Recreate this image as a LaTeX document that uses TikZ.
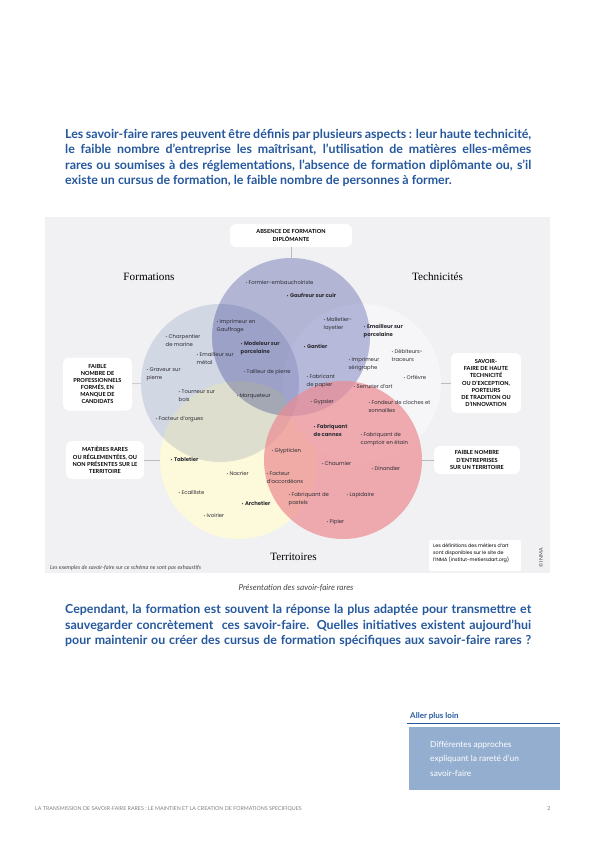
\documentclass[tikz,border=0pt]{standalone}
\usepackage{fontspec}
\setmainfont{Lato}
\newfontfamily\popp{Poppins}
\newfontfamily\serifx{Liberation Serif}
\definecolor{headblue}{RGB}{37,88,158}
\definecolor{panelgray}{RGB}{241,241,243}
\definecolor{cyellow}{RGB}{253,249,219}
\definecolor{cright}{RGB}{246,246,249}
\definecolor{cleft}{RGB}{223,228,240}
\definecolor{ctopc}{RGB}{190,192,224}
\definecolor{credc}{RGB}{236,139,145}
\definecolor{linegray}{RGB}{185,185,190}
\definecolor{boxblue}{RGB}{148,174,208}
\definecolor{textdark}{RGB}{45,45,52}
\definecolor{captgray}{RGB}{70,70,75}
\newcommand\bul{{\fontsize{4}{4}\selectfont\textbullet}\hspace{1.3pt}}
\newcommand\jline[1]{\makebox[466pt][s]{#1}}
\tikzset{
  headtxt/.style={anchor=base west, inner sep=0pt, text=headblue, font=\bfseries\fontsize{12.4}{14}\selectfont},
  itm/.style={anchor=base west, inner sep=0pt, align=left, text=textdark, font=\popp\fontsize{5.3}{7.8}\selectfont},
  itmb/.style={itm, font=\popp\bfseries\fontsize{5.3}{7.8}\selectfont},
  itmtwo/.style={itm, yshift=-7.8pt},
  itmbtwo/.style={itmb, yshift=-7.8pt},
  lbox/.style={fill=white, rounded corners=6pt, inner sep=0pt, align=center, text=black, font=\bfseries\fontsize{5.6}{7.1}\selectfont},
  connline/.style={draw=linegray, line width=0.6pt},
  ringnode/.style={circle, minimum size=158pt, inner sep=0pt},
  domtitle/.style={anchor=base, inner sep=0pt, font=\serifx\fontsize{11.2}{12}\selectfont, text=black}
}
\begin{document}
\begin{tikzpicture}[x=1pt,y=-1pt]
\useasboundingbox (0,0) rectangle (595,842);
\fill[white] (0,0) rectangle (595,842);

% heading paragraph
\node[headtxt] (h1) at (65,138.5) {\jline{Les savoir-faire rares peuvent être définis par plusieurs aspects : leur haute technicité,}};
\node[headtxt] (h2) at (65,154) {\jline{le faible nombre d’entreprise les maîtrisant, l’utilisation de matières elles-mêmes}};
\node[headtxt] (h3) at (65,169.3) {\jline{rares ou soumises à des réglementations, l’absence de formation diplômante ou, s’il}};
\node[headtxt] (h4) at (65,184.6) {existe un cursus de formation, le faible nombre de personnes à former.};

% panel
\fill[panelgray] (45,217) rectangle (550,573);

% circles
\node[ringnode, fill=cyellow] (cyel) at (239,460) {};
\node[ringnode, fill=cright] (cri) at (362,383) {};
\begin{scope}[blend mode=multiply]
\node[ringnode, fill=cleft] (cle) at (220,383) {};
\node[ringnode, fill=ctopc] (cto) at (291,337) {};
\end{scope}
\node[ringnode, fill=credc, fill opacity=0.7] (cred) at (343,460) {};

% label boxes
\node[lbox, minimum width=122pt, minimum height=23pt] (absbox) at (291,235.5) {ABSENCE DE FORMATION\\DIPLÔMANTE};
\node[lbox, minimum width=69pt, minimum height=53pt] (profbox) at (97.5,384) {FAIBLE\\NOMBRE DE\\PROFESSIONNELS\\FORMÉS, EN\\MANQUE DE\\CANDIDATS};
\node[lbox, minimum width=78pt, minimum height=38pt] (matbox) at (105,460) {MATIÈRES RARES\\OU RÉGLEMENTÉES, OU\\NON PRÉSENTES SUR LE\\TERRITOIRE};
\node[lbox, minimum width=70pt, minimum height=60pt] (savbox) at (486,383) {SAVOIR-\\FAIRE DE HAUTE\\TECHNICITÉ\\OU D’EXCEPTION,\\PORTEURS\\DE TRADITION OU\\D’INNOVATION};
\node[lbox, minimum width=86pt, minimum height=28pt] (entbox) at (477,460) {FAIBLE NOMBRE\\D’ENTREPRISES\\SUR UN TERRITOIRE};

\draw[connline] (absbox) -- (cto);
\draw[connline] (profbox) -- (cle);
\draw[connline] (matbox) -- (cyel);
\draw[connline] (savbox) -- (cri);
\draw[connline] (entbox) -- (cred);

% domain titles
\node[domtitle] (tform) at (149,280) {Formations};
\node[domtitle] (ttech) at (437.5,280) {Technicités};
\node[domtitle] (tterr) at (293.5,560) {Territoires};

% items: top circle
\node[itm] (i1) at (245.5,284.5) {\bul Formier-embauchoiriste};
\node[itmb] (i2) at (286.5,297.5) {\bul Gaufreur sur cuir};
\node[itmtwo] (i3) at (323.5,321.5) {\bul Malletier-\\layetier};
\node[itmtwo] (i4) at (216.5,323.5) {\bul Imprimeur en\\Gauffrage};
\node[itmbtwo] (i5) at (240.5,345.5) {\bul Modeleur sur\\porcelaine};
\node[itm] (i6) at (243.5,373.5) {\bul Tailleur de pierre};
\node[itmb] (i7) at (303.5,348.5) {\bul Gantier};
\node[itmbtwo] (i8) at (363.5,328.5) {\bul Emailleur sur\\porcelaine};
\node[itmtwo] (i9) at (348.5,361.5) {\bul Imprimeur\\sérigraphe};
\node[itmtwo] (i10) at (391.5,353.5) {\bul Débiteurs-\\traceurs};
\node[itm] (i11) at (403.5,379.5) {\bul Orfèvre};
\node[itmtwo] (i12) at (306.5,378.5) {\bul Fabricant\\de papier};
\node[itm] (i13) at (353.5,388.5) {\bul Serrurier d’art};
\node[itm] (i14) at (310.5,403.5) {\bul Gypsier};
\node[itmtwo] (i15) at (368.5,404.5) {\bul Fondeur de cloches et\\sonnailles};
% left circle
\node[itmtwo] (i16) at (165.5,338.5) {\bul Charpentier\\de marine};
\node[itmtwo] (i17) at (196.5,356.5) {\bul Emailleur sur\\métal};
\node[itmtwo] (i18) at (146.5,371.5) {\bul Graveur sur\\pierre};
\node[itmtwo] (i19) at (178.5,393.5) {\bul Tourneur sur\\bois};
\node[itm] (i20) at (236.5,397.5) {\bul Marqueteur};
\node[itm] (i21) at (155.5,420.5) {\bul Facteur d’orgues};
% bottom
\node[itmb] (i22) at (170.5,461.5) {\bul Tabletier};
\node[itm] (i23) at (226.5,475.5) {\bul Nacrier};
\node[itm] (i24) at (178.5,494.5) {\bul Ecailliste};
\node[itmb] (i25) at (241.5,505.5) {\bul Archetier};
\node[itm] (i26) at (203.5,517.5) {\bul Ivoirier};
\node[itm] (i27) at (271.5,452.5) {\bul Glypticien};
\node[itmtwo] (i28) at (266.5,475.5) {\bul Facteur\\d’accordéons};
\node[itmtwo] (i29) at (288.5,496.5) {\bul Fabriquant de\\pastels};
% red circle
\node[itmbtwo] (i30) at (313.5,428.5) {\bul Fabriquant\\de cannes};
\node[itmtwo] (i31) at (360.5,436.5) {\bul Fabriquant de\\comptoir en étain};
\node[itm] (i32) at (321.5,465.5) {\bul Chaumier};
\node[itm] (i33) at (371.5,470.5) {\bul Dinandier};
\node[itm] (i34) at (346.5,496.5) {\bul Lapidaire};
\node[itm] (i35) at (326.5,523.5) {\bul Pipier};

% notes in panel
\node[anchor=base west, inner sep=0pt, text=captgray, font=\itshape\fontsize{5.6}{7}\selectfont] (note1) at (50,569) {Les exemples de savoir-faire sur ce schéma ne sont pas exhaustifs};
\node[fill=white, rounded corners=2pt, minimum width=92pt, minimum height=31pt, inner sep=0pt] (defbox) at (475,555.5) {};
\node[anchor=north west, inner sep=0pt, align=left, text=black, font=\popp\fontsize{4.8}{7}\selectfont] (deftext) at (433,543.5) {Les définitions des métiers d’art\\sont disponibles sur le site de\\l’INMA (institut-metiersdart.org)};
\node[rotate=90, inner sep=0pt, text=captgray, font=\fontsize{5.2}{6}\selectfont] (copy) at (541,558) {© INMA};

% caption
\node[anchor=base, inner sep=0pt, text=captgray, font=\itshape\fontsize{8.2}{10}\selectfont] (capt) at (296,590.5) {Présentation des savoir-faire rares};

% second paragraph
\node[headtxt] (p1) at (65,613.5) {\jline{Cependant, la formation est souvent la réponse la plus adaptée pour transmettre et}};
\node[headtxt] (p2) at (65,629) {\jline{sauvegarder concrètement \ ces savoir-faire. Quelles initiatives existent aujourd’hui}};
\node[headtxt] (p3) at (65,644.5) {\jline{pour maintenir ou créer des cursus de formation spécifiques aux savoir-faire rares ?}};

% aller plus loin
\node[anchor=base west, inner sep=0pt, text=headblue, font=\bfseries\fontsize{8}{10}\selectfont] (apl) at (410,718.5) {Aller plus loin};
\draw[headblue, line width=0.7pt] (407,723) -- (560,723);
\fill[boxblue] (409,727) rectangle (560,790);
\node[anchor=north west, inner sep=0pt, align=left, text=white, font=\fontsize{8.4}{14.5}\selectfont] (apltext) at (430,741) {Différentes approches\\expliquant la rareté d’un\\savoir-faire};

% footer
\node[anchor=base west, inner sep=0pt, text=gray, font=\fontsize{5.3}{6}\selectfont] (foot) at (35,810) {LA TRANSMISSION DE SAVOIR-FAIRE RARES : LE MAINTIEN ET LA CREATION DE FORMATIONS SPECIFIQUES};
\node[anchor=base, inner sep=0pt, text=gray, font=\fontsize{5.5}{6}\selectfont] (pnum) at (549,810) {2};
\end{tikzpicture}
\end{document}
